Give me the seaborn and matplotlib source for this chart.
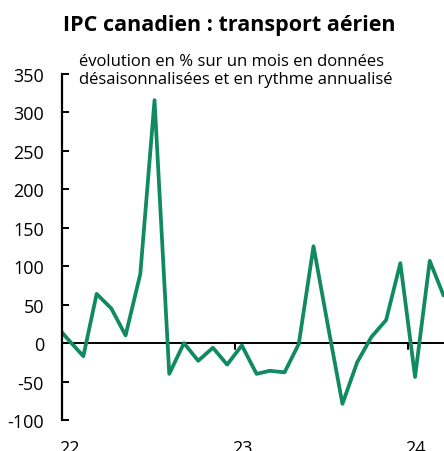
import matplotlib
matplotlib.use("Agg")
import matplotlib.pyplot as plt
import matplotlib.transforms as mtransforms
import matplotlib.dates as mdates
import seaborn as sns
import pandas as pd

months = ["2021-12", "2022-01", "2022-02", "2022-03", "2022-04", "2022-05", "2022-06",
          "2022-07", "2022-08", "2022-09", "2022-10", "2022-11", "2022-12",
          "2023-01", "2023-02", "2023-03", "2023-04", "2023-05", "2023-06",
          "2023-07", "2023-08", "2023-09", "2023-10", "2023-11", "2023-12",
          "2024-01", "2024-02", "2024-03"]
values = [26, 4, -17, 64, 45, 10, 90,
          316, -40, 0, -23, -6, -28,
          -3, -40, -36, -38, -1, 126,
          24, -79, -25, 8, 30, 104,
          -44, 107, 62]
year_ticks = ["2022-01-01", "2023-01-01", "2024-01-01"]
year_labels = ["22", "23", "24"]
y_ticks = [-100, -50, 0, 50, 100, 150, 200, 250, 300, 350]

title = "IPC canadien : transport aérien"
subtitle = "évolution en % sur un mois en données\ndésaisonnalisées et en rythme annualisé"

sns.set_theme(style="white")
plt.rcParams['font.family'] = ['Open Sans', 'DejaVu Sans']

df = pd.DataFrame({"date": pd.to_datetime(months) + pd.Timedelta(days=14), "val": values})

fig = plt.figure(figsize=(4.44, 4.52), dpi=100)
W, H = 444, 452
ax = fig.add_axes([62 / W, (H - 421) / H, 1 - 62 / W, (421 - 75) / H])

sns.lineplot(data=df, x="date", y="val", ax=ax, color="#108a60", linewidth=2.7)

ax.set_xlim(pd.Timestamp("2022-01-01"), pd.Timestamp("2024-03-16"))
ax.set_ylim(-100, 350)
ax.set_yticks(y_ticks)
ax.set_yticklabels([str(v) for v in y_ticks])
ax.set_xlabel("")
ax.set_ylabel("")

for s in ["top", "right", "bottom"]:
    ax.spines[s].set_visible(False)
ax.spines["left"].set_color("black")
ax.spines["left"].set_linewidth(1.6)

ax.axhline(0, color="black", linewidth=1.4, zorder=1)

ax.tick_params(axis="y", direction="in", length=5, width=1.4, pad=13, labelsize=13, colors="black", left=True)
ax.set_xticks(pd.to_datetime(year_ticks))
ax.set_xticklabels([""] * len(year_ticks))
ax.tick_params(axis="x", bottom=False, length=0)

# year labels, left-aligned near each year start, below the plot
trans = mtransforms.blended_transform_factory(ax.transData, ax.transAxes)
shift = mtransforms.ScaledTranslation(-3 / 100, 0, fig.dpi_scale_trans)
for d, lab in zip(year_ticks, year_labels):
    ax.text(mdates.date2num(pd.Timestamp(d)), -19 / 346, lab, transform=trans + shift,
            ha="left", va="top", fontsize=13, color="black", clip_on=False)

# small ticks on the zero line
for d in year_ticks[1:]:
    ax.plot([pd.Timestamp(d)] * 2, [0, -8], color="black", linewidth=1.4, zorder=1)

fig.text(229 / W, 1 - 25 / H, title, ha="center", va="center", fontsize=15.5, fontweight="bold", color="black")
fig.text(79 / W, 1 - 71 / H, subtitle, ha="left", va="center", fontsize=12, color="black", linespacing=1.25)

fig.savefig("out.png", dpi=100)
